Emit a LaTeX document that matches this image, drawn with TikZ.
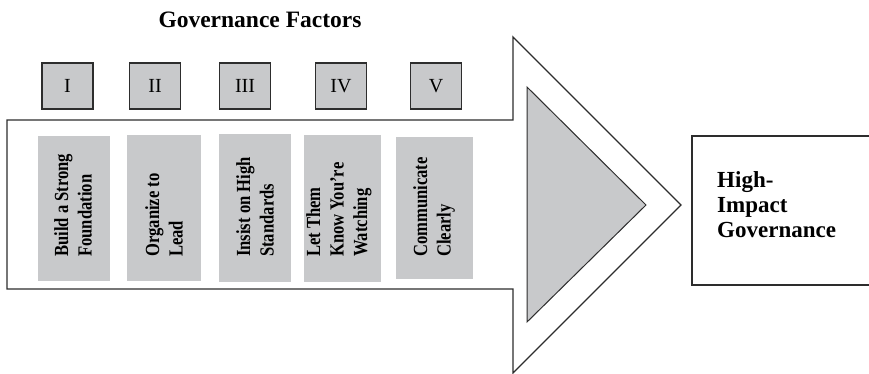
\documentclass[tikz,border=0pt]{standalone}
\usepackage{fontspec}
\setmainfont{Liberation Serif}
\newfontfamily\condserif[FakeStretch=0.83]{Liberation Serif}
\definecolor{panelgray}{RGB}{200,201,203}
\definecolor{edgegray}{RGB}{45,45,45}
\tikzset{
  numbox/.style={draw=edgegray, line width=1.3pt, fill=panelgray, minimum width=51pt, minimum height=46pt, inner sep=0pt, font=\fontsize{20}{22}\selectfont},
  factorbox/.style={fill=panelgray, draw=none},
  factortext/.style={rotate=90, anchor=west, align=left, inner sep=0pt, font=\condserif\bfseries\fontsize{20}{23.5}\selectfont},
  outline/.style={draw=edgegray, line width=1.3pt},
}
\begin{document}
\begin{tikzpicture}[x=1pt,y=-1pt]
\useasboundingbox (0,0) rectangle (869,374);

% title
\node[font=\bfseries\fontsize{23.5}{26}\selectfont] (title) at (260,20) {Governance Factors};

% big arrow
\draw[outline, line join=miter] (7,120) -- (513,120) -- (513,37) -- (681,205) -- (513,373) -- (513,289) -- (7,289) -- cycle;

% inner triangle
\draw[outline, fill=panelgray, line width=1pt] (527,87) -- (646,205) -- (527,322) -- cycle;

% numeral boxes
\node[numbox] (n1) at (67.5,86) {I};
\node[numbox] (n2) at (155,86) {II};
\node[numbox] (n3) at (245,86) {III};
\node[numbox] (n4) at (341,86) {IV};
\node[numbox] (n5) at (436,86) {V};

% factor panels
\fill[factorbox] (38,136) rectangle (110,281);
\fill[factorbox] (127,135) rectangle (201,281);
\fill[factorbox] (219,134) rectangle (291,282);
\fill[factorbox] (304,135) rectangle (381,282);
\fill[factorbox] (396,137) rectangle (473,279);

\node[factortext] (f1) at (73,257) {Build a Strong\\Foundation};
\node[factortext] (f2) at (164,257) {Organize to\\Lead};
\node[factortext] (f3) at (255,257) {Insist on High\\Standards};
\node[factortext] (f4) at (339,257) {Let Them\\Know You’re\\Watching};
\node[factortext] (f5) at (434,257) {Communicate\\Clearly};

% outcome box
\draw[outline] (871,136) -- (692,136) -- (692,285) -- (871,285);
\node[anchor=west, align=left, inner sep=0pt, font=\bfseries\fontsize{23}{25}\selectfont] (out) at (717,205) {High-\\Impact\\Governance};
\end{tikzpicture}
\end{document}
